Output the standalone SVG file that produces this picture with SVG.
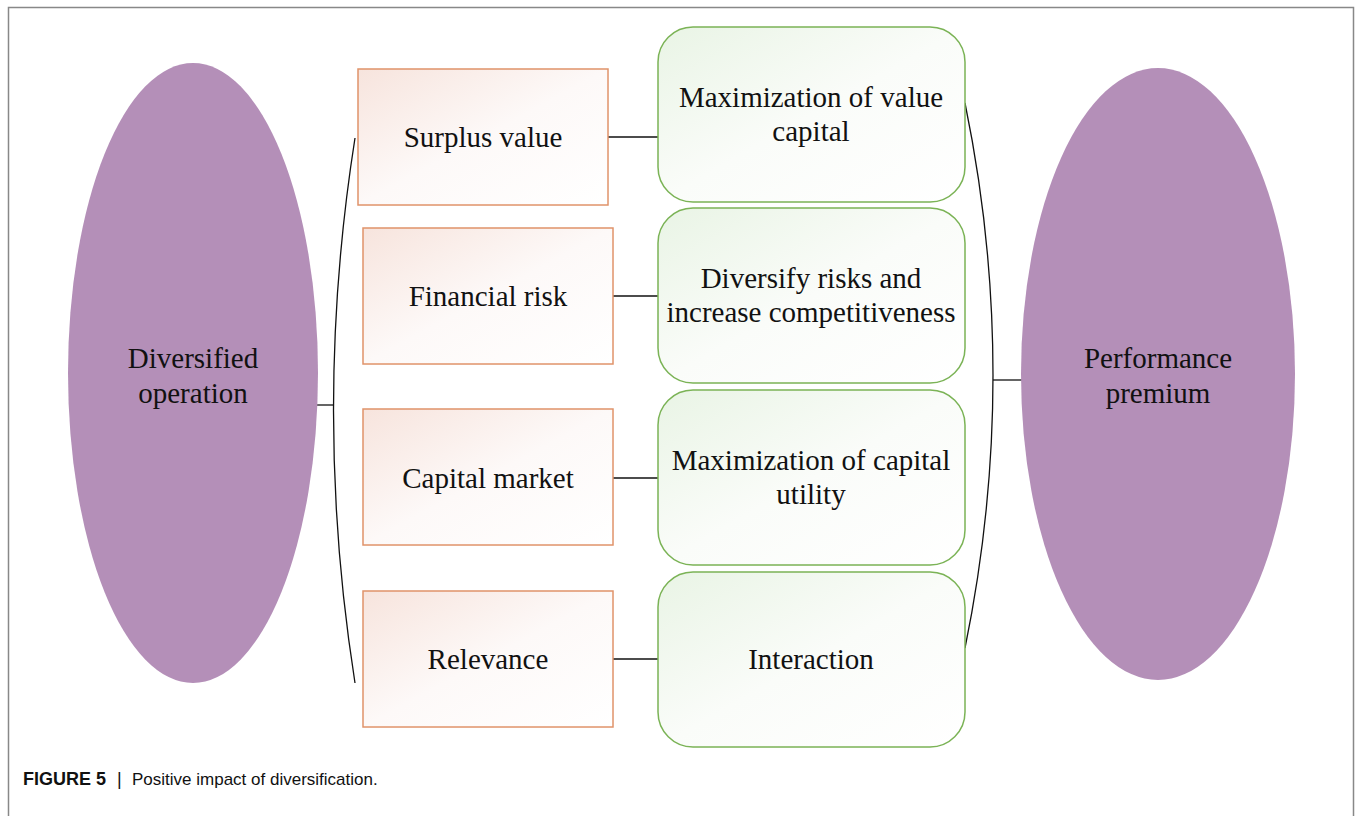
<svg xmlns="http://www.w3.org/2000/svg" width="1361" height="816" viewBox="0 0 1361 816">
<style>
.t{font-family:"Liberation Serif","Times New Roman",serif;font-size:29px;fill:#111;text-anchor:middle}
.ob{fill:url(#og);stroke:#e0936a;stroke-width:1.5}
.gb{fill:url(#gg);stroke:#7bb356;stroke-width:1.5}
.el{fill:#b48fb8}
.c{fill:none;stroke:#111;stroke-width:1.3}
</style>
<defs>
<linearGradient id="og" x1="0" y1="0" x2="1" y2="1">
<stop offset="0" stop-color="#f7e4dd"/><stop offset="0.5" stop-color="#fdf9f8"/><stop offset="1" stop-color="#ffffff"/>
</linearGradient>
<linearGradient id="gg" x1="0" y1="0" x2="1" y2="1">
<stop offset="0" stop-color="#e9f4e5"/><stop offset="0.5" stop-color="#fafcf9"/><stop offset="1" stop-color="#ffffff"/>
</linearGradient>
</defs>
<rect x="0" y="0" width="1361" height="816" fill="#fff"/>
<path d="M8.5 820 V7.5 H1353.5 V820" fill="none" stroke="#888" stroke-width="1.5"/>
<g id="connectors">
<path class="c" d="M355 138 Q312 410 355 683"/>
<line class="c" x1="317" y1="405" x2="334" y2="405"/>
<path class="c" d="M965 103 Q1021 375 965 648"/>
<line class="c" x1="993" y1="380" x2="1022" y2="380"/>
<line class="c" x1="608" y1="137" x2="658" y2="137"/>
<line class="c" x1="613" y1="296" x2="658" y2="296"/>
<line class="c" x1="613" y1="478" x2="658" y2="478"/>
<line class="c" x1="613" y1="659" x2="658" y2="659"/>
</g>
<g id="n-diversified">
<ellipse class="el" cx="193" cy="373" rx="125" ry="310"/>
<text class="t" x="193" y="368">Diversified</text>
<text class="t" x="193" y="403">operation</text>
</g>
<g id="n-performance">
<ellipse class="el" cx="1158" cy="374" rx="137" ry="306"/>
<text class="t" x="1158" y="368">Performance</text>
<text class="t" x="1158" y="403">premium</text>
</g>
<g id="n-surplus">
<rect class="ob" x="358" y="69" width="250" height="136"/>
<text class="t" x="483" y="147">Surplus value</text>
</g>
<g id="n-financial">
<rect class="ob" x="363" y="228" width="250" height="136"/>
<text class="t" x="488" y="306">Financial risk</text>
</g>
<g id="n-capital">
<rect class="ob" x="363" y="409" width="250" height="136"/>
<text class="t" x="488" y="488">Capital market</text>
</g>
<g id="n-relevance">
<rect class="ob" x="363" y="591" width="250" height="136"/>
<text class="t" x="488" y="669">Relevance</text>
</g>
<g id="n-maxvalue">
<rect class="gb" x="658" y="27" width="307" height="175" rx="35"/>
<text class="t" x="811" y="107">Maximization of value</text>
<text class="t" x="811" y="141">capital</text>
</g>
<g id="n-diversify">
<rect class="gb" x="658" y="208" width="307" height="175" rx="35"/>
<text class="t" x="811" y="288">Diversify risks and</text>
<text class="t" x="811" y="322">increase competitiveness</text>
</g>
<g id="n-maxutility">
<rect class="gb" x="658" y="390" width="307" height="175" rx="35"/>
<text class="t" x="811" y="470">Maximization of capital</text>
<text class="t" x="811" y="504">utility</text>
</g>
<g id="n-interaction">
<rect class="gb" x="658" y="572" width="307" height="175" rx="35"/>
<text class="t" x="811" y="669">Interaction</text>
</g>
<g id="caption" font-family="'Liberation Sans',Arial,sans-serif" font-size="17" fill="#111">
<text x="23" y="785" font-weight="bold" font-size="18">FIGURE 5</text>
<text x="117" y="785" font-size="18">|</text>
<text x="132" y="785">Positive impact of diversification.</text>
</g>
</svg>
